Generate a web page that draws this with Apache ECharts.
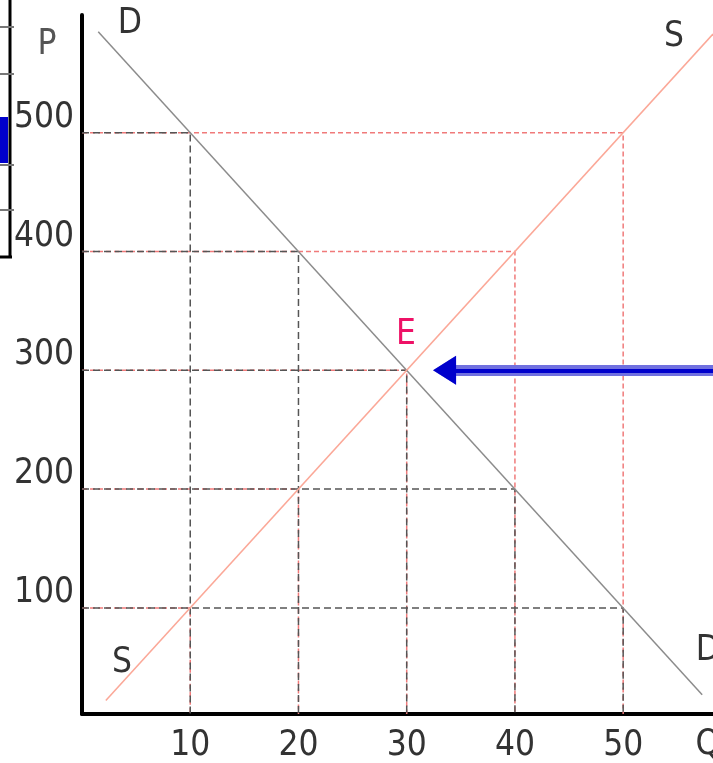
<!DOCTYPE html>
<html>
<head>
<meta charset="utf-8">
<script src="https://cdn.jsdelivr.net/npm/echarts@6/dist/echarts.min.js"></script>
<style>
  html, body { margin: 0; padding: 0; background: #fff; }
  #main { width: 713px; height: 763px; }
</style>
</head>
<body>
<div id="main"></div>
<script>
// 供需曲线数据
var qVals = [10, 20, 30, 40, 50];
var demandP = [500, 400, 300, 200, 100];
var supplyP = [100, 200, 300, 400, 500];
var demandLine = [[1.5, 585], [57.3, 27]];
var supplyLine = [[2.2, 22], [58.3, 583]];
var arrowFrom = [58.3, 300];
var arrowTo = [33.5, 300];
var xTicks = [10, 20, 30, 40, 50];
var yTicks = [100, 200, 300, 400, 500];

var X_MIN = 0, X_MAX = 58.3, Y_MIN = 10.7, Y_MAX = 599;
var FONT = '"Liberation Sans Narrow", "DejaVu Sans Condensed", Arial, sans-serif';

// 虚线：从坐标轴到曲线上的点
function dropLines(ps, color, dash) {
  var out = [];
  for (var i = 0; i < qVals.length; i++) {
    out.push({
      type: 'line',
      silent: true,
      symbol: 'none',
      data: [[X_MIN, ps[i]], [qVals[i], ps[i]], [qVals[i], Y_MIN]],
      lineStyle: { color: color, width: 1.5, type: dash },
      z: 1
    });
  }
  return out;
}

var series = [];
series = series.concat(dropLines(supplyP, '#f07a7a', [5, 3]));
series = series.concat(dropLines(demandP, '#555', [7, 4]));
series.push({
  type: 'line', name: 'D', symbol: 'none', silent: true,
  data: demandLine,
  lineStyle: { color: '#8c8c8c', width: 1.5 },
  z: 3
});
series.push({
  type: 'line', name: 'S', symbol: 'none', silent: true,
  data: supplyLine,
  lineStyle: { color: '#fba898', width: 1.6 },
  z: 3,
  markLine: {
    silent: true,
    symbol: ['none', 'triangle'],
    symbolSize: [29, 23],
    label: { show: false },
    lineStyle: { color: '#7070e0', width: 11, type: 'solid' },
    data: [[{ coord: arrowFrom }, { coord: arrowTo }]]
  }
});
series.push({
  type: 'line', symbol: 'none', silent: true, data: [],
  markLine: {
    silent: true,
    symbol: ['none', 'triangle'],
    symbolSize: [29, 23],
    label: { show: false },
    lineStyle: { color: '#0000cc', width: 4, type: 'solid' },
    data: [[{ coord: arrowFrom }, { coord: arrowTo }]]
  },
  z: 5
});

var txt = function (t, x, y, color) {
  return { type: 'text', x: x, y: y, style: { text: t, font: '35px ' + FONT, fill: color || '#333', align: 'center', verticalAlign: 'middle' }, z: 10 };
};

var option = {
  backgroundColor: '#fff',
  animation: false,
  grid: { left: 82, right: 0, top: 15, bottom: 46.5 },
  xAxis: {
    type: 'value', min: X_MIN, max: X_MAX,
    axisLine: { show: true, onZero: false, lineStyle: { color: '#000', width: 4 } },
    axisTick: { show: false },
    splitLine: { show: false },
    axisLabel: { customValues: xTicks, margin: 14, fontSize: 35, fontFamily: FONT, color: '#333' }
  },
  yAxis: {
    type: 'value', min: Y_MIN, max: Y_MAX,
    axisLine: { show: true, onZero: false, lineStyle: { color: '#000', width: 4 } },
    axisTick: { show: false },
    splitLine: { show: false },
    axisLabel: { customValues: yTicks, margin: 8, fontSize: 35, fontFamily: FONT, color: '#333', verticalAlign: 'bottom', lineHeight: 30 }
  },
  graphic: [
    txt('P', 47, 45, '#555'),
    txt('D', 130, 24),
    txt('S', 674, 37),
    txt('S', 122, 663),
    txt('D', 708, 651),
    txt('Q', 708, 745),
    txt('E', 406, 335, '#ee1166'),
    // 左侧残留的另一个图表边缘
    { type: 'line', shape: { x1: 10, y1: 0, x2: 10, y2: 257 }, style: { stroke: '#000', lineWidth: 3 } },
    { type: 'line', shape: { x1: 0, y1: 257, x2: 12, y2: 257 }, style: { stroke: '#000', lineWidth: 3 } },
    { type: 'line', shape: { x1: 0, y1: 27, x2: 14, y2: 27 }, style: { stroke: '#777', lineWidth: 2 } },
    { type: 'line', shape: { x1: 0, y1: 74, x2: 14, y2: 74 }, style: { stroke: '#777', lineWidth: 2 } },
    { type: 'line', shape: { x1: 0, y1: 165, x2: 14, y2: 165 }, style: { stroke: '#777', lineWidth: 2 } },
    { type: 'line', shape: { x1: 0, y1: 210, x2: 14, y2: 210 }, style: { stroke: '#777', lineWidth: 2 } },
    { type: 'rect', shape: { x: 0, y: 117, width: 8, height: 46 }, style: { fill: '#0000cc' } }
  ],
  series: series
};

var myChart = echarts.init(document.getElementById('main'));
myChart.setOption(option);
</script>
</body>
</html>
